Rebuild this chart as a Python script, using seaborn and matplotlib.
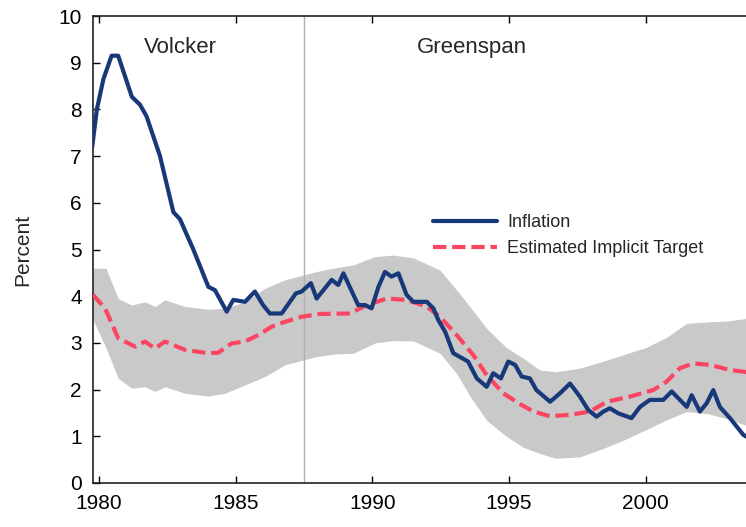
import numpy as np
import pandas as pd
import matplotlib
matplotlib.use("Agg")
import matplotlib.pyplot as plt
import seaborn as sns

# Inflation (year fraction vs percent)
infl_years = [1979.75, 1979.92, 1980.16, 1980.46, 1980.70, 1981.20, 1981.50, 1981.74,
              1982.23, 1982.72, 1982.96, 1983.45, 1984.00, 1984.24, 1984.67, 1984.91,
              1985.34, 1985.70, 1986.00, 1986.25, 1986.68, 1987.20, 1987.41, 1987.75,
              1987.96, 1988.51, 1988.75, 1988.94, 1989.48, 1989.73, 1989.97, 1990.22,
              1990.46, 1990.70, 1990.95, 1991.25, 1991.50, 1991.99, 1992.23, 1992.41,
              1992.66, 1992.96, 1993.20, 1993.50, 1993.82, 1994.18, 1994.42, 1994.70,
              1994.97, 1995.22, 1995.46, 1995.76, 1996.00, 1996.50, 1996.86, 1997.23,
              1997.59, 1997.90, 1998.20, 1998.45, 1998.69, 1999.00, 1999.48, 1999.79,
              2000.15, 2000.64, 2000.95, 2001.25, 2001.50, 2001.68, 2001.98, 2002.23,
              2002.47, 2002.71, 2003.08, 2003.57, 2003.75]
inflation = [7.20, 8.00, 8.65, 9.15, 9.15, 8.27, 8.10, 7.85,
             7.00, 5.80, 5.65, 5.00, 4.20, 4.13, 3.67, 3.92,
             3.88, 4.10, 3.81, 3.63, 3.63, 4.06, 4.10, 4.28,
             3.95, 4.35, 4.24, 4.49, 3.81, 3.81, 3.74, 4.20,
             4.52, 4.42, 4.49, 4.03, 3.88, 3.88, 3.74, 3.49,
             3.24, 2.78, 2.70, 2.60, 2.24, 2.06, 2.35, 2.24,
             2.60, 2.53, 2.28, 2.24, 1.99, 1.74, 1.92, 2.13,
             1.85, 1.56, 1.42, 1.53, 1.60, 1.49, 1.39, 1.63,
             1.78, 1.78, 1.96, 1.78, 1.63, 1.88, 1.53, 1.71,
             1.99, 1.63, 1.39, 1.03, 0.97]

# Estimated implicit target
target_years = [1979.78, 1980.22, 1980.70, 1981.32, 1981.68, 1982.05, 1982.41, 1983.15,
                1984.00, 1984.36, 1984.85, 1985.34, 1985.83, 1986.32, 1986.80, 1987.41,
                1988.08, 1989.18, 1989.79, 1990.52, 1991.25, 1991.98, 1992.47, 1993.08,
                1993.69, 1994.18, 1994.79, 1995.40, 1995.89, 1996.50, 1997.23, 1997.96,
                1998.57, 1999.42, 2000.27, 2000.76, 2001.25, 2001.74, 2002.35, 2003.08,
                2003.75]
target = [4.03, 3.74, 3.10, 2.92, 3.03, 2.88, 3.03, 2.85,
          2.78, 2.79, 2.99, 3.03, 3.17, 3.35, 3.45, 3.56,
          3.62, 3.63, 3.81, 3.95, 3.92, 3.78, 3.56, 3.17,
          2.74, 2.31, 1.92, 1.69, 1.53, 1.43, 1.46, 1.53,
          1.74, 1.85, 1.99, 2.17, 2.46, 2.56, 2.53, 2.42,
          2.37]

# Confidence band around the target
band_years = [1979.78, 1980.25, 1980.70, 1981.20, 1981.68, 1982.05, 1982.41, 1983.15,
              1984.00, 1984.60, 1985.34, 1986.07, 1986.80, 1987.90, 1988.57, 1989.30,
              1990.10, 1990.76, 1991.50, 1992.47, 1993.10, 1993.60, 1994.20, 1994.90,
              1995.50, 1996.13, 1996.70, 1997.59, 1998.40, 1999.20, 2000.00, 2000.76,
              2001.50, 2002.30, 2003.00, 2003.75]
band_upper = [4.60, 4.60, 3.95, 3.81, 3.88, 3.78, 3.92, 3.78,
              3.72, 3.74, 3.88, 4.17, 4.35, 4.52, 4.60, 4.67,
              4.85, 4.88, 4.82, 4.56, 4.12, 3.75, 3.30, 2.90,
              2.68, 2.42, 2.38, 2.46, 2.60, 2.75, 2.90, 3.12,
              3.42, 3.45, 3.47, 3.53]
band_lower = [3.49, 2.90, 2.24, 2.03, 2.06, 1.96, 2.06, 1.92,
              1.86, 1.92, 2.10, 2.28, 2.53, 2.70, 2.76, 2.78,
              3.00, 3.05, 3.04, 2.78, 2.33, 1.83, 1.33, 1.00,
              0.77, 0.63, 0.53, 0.56, 0.73, 0.92, 1.14, 1.35,
              1.53, 1.48, 1.37, 1.22]

greenspan_start = 1987.5
year_ticks = [1980, 1985, 1990, 1995, 2000]

infl_df = pd.DataFrame({"Year": infl_years, "Percent": inflation})
target_df = pd.DataFrame({"Year": target_years, "Percent": target})

sns.set_style("ticks")
plt.rcParams["font.family"] = ["Liberation Sans", "DejaVu Sans"]

fig = plt.figure(figsize=(7.46, 5.27), dpi=100)
ax = fig.add_axes([0.1247, 0.0835, 0.8875, 0.8861])

# shaded band and the Greenspan divider
ax.fill_between(band_years, band_lower, band_upper, color="#c9c9c9", linewidth=0, zorder=1)
ax.axvline(greenspan_start, color="#b0b0b0", linewidth=1, zorder=2)

sns.lineplot(data=infl_df, x="Year", y="Percent", ax=ax, color="#17397a",
             linewidth=3, label="Inflation", zorder=4)
sns.lineplot(data=target_df, x="Year", y="Percent", ax=ax, color="#fb4563",
             linewidth=3, linestyle=(0, (3.2, 1.4)), label="Estimated Implicit Target", zorder=3)

ax.set_xlim(1979.78, 2004.0)
ax.set_ylim(0, 10)
ax.set_xticks(year_ticks)
ax.set_yticks(range(0, 11))
ax.tick_params(direction="in", top=True, right=True, length=5, width=1,
               labelsize=15, colors="black", pad=8)
for s in ax.spines.values():
    s.set_linewidth(1.2)
    s.set_color("#222222")

ax.set_xlabel("")
ax.set_ylabel("Percent", fontsize=15, labelpad=19)

ax.text(1982.96, 9.32, "Volcker", fontsize=16, ha="center", va="center")
ax.text(1993.64, 9.32, "Greenspan", fontsize=16, ha="center", va="center")

ax.legend(loc="upper left", bbox_to_anchor=(0.514, 0.576), frameon=False,
          fontsize=13, handlelength=3.5, handletextpad=0.6, labelspacing=0.5,
          borderaxespad=0, borderpad=0)

fig.savefig("out.png", dpi=100)
